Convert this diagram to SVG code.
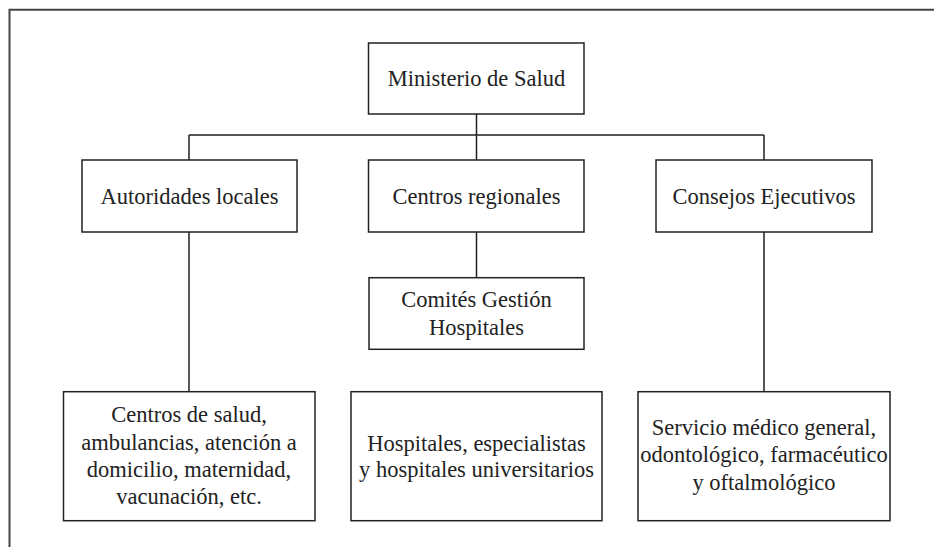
<svg xmlns="http://www.w3.org/2000/svg" width="934" height="547" viewBox="0 0 934 547">
<style>
.box{fill:#fff;stroke:#222;stroke-width:1.5}
.ln{fill:none;stroke:#222;stroke-width:1.5}
.frame{fill:none;stroke:#444;stroke-width:2}
.t{font-size:22.5px;fill:#222;text-anchor:middle}
</style>
<rect width="934" height="547" fill="#fff"/>
<path class="frame" d="M9.5,547 V9.7 H934"/>
<g id="connectors">
<path class="ln" d="M476.5,114 V135 M189,135 H764 M189,135 V160 M476.5,135 V160 M764,135 V160 M476.5,232 V277.7 M189,232 V391.7 M764,232 V391.7"/>
</g>
<g class="t" font-family="Liberation Serif, Times New Roman, serif">
<g id="ministerio">
<rect class="box" x="368.5" y="43" width="215.5" height="71"/>
<text x="476.5" y="86">Ministerio de Salud</text>
</g>
<g id="autoridades">
<rect class="box" x="82" y="160" width="215" height="72"/>
<text x="189.5" y="204">Autoridades locales</text>
</g>
<g id="centros-regionales">
<rect class="box" x="368.5" y="160" width="215.5" height="72"/>
<text x="476.5" y="204">Centros regionales</text>
</g>
<g id="consejos">
<rect class="box" x="656" y="160" width="216" height="72"/>
<text x="764" y="204">Consejos Ejecutivos</text>
</g>
<g id="comites">
<rect class="box" x="369" y="277.7" width="215" height="71.6"/>
<text x="476.5" y="307">Comités Gestión</text>
<text x="476.5" y="335">Hospitales</text>
</g>
<g id="centros-salud">
<rect class="box" x="63.5" y="391.7" width="251.5" height="129"/>
<text x="189" y="422">Centros de salud,</text>
<text x="189" y="449.5">ambulancias, atención a</text>
<text x="189" y="477">domicilio, maternidad,</text>
<text x="189" y="504">vacunación, etc.</text>
</g>
<g id="hospitales">
<rect class="box" x="351" y="391.7" width="251" height="129"/>
<text x="476.5" y="451">Hospitales, especialistas</text>
<text x="476.5" y="477">y hospitales universitarios</text>
</g>
<g id="servicio">
<rect class="box" x="638" y="391.7" width="252" height="129"/>
<text x="764" y="435">Servicio médico general,</text>
<text x="764" y="462">odontológico, farmacéutico</text>
<text x="764" y="490">y oftalmológico</text>
</g>
</g>
</svg>
